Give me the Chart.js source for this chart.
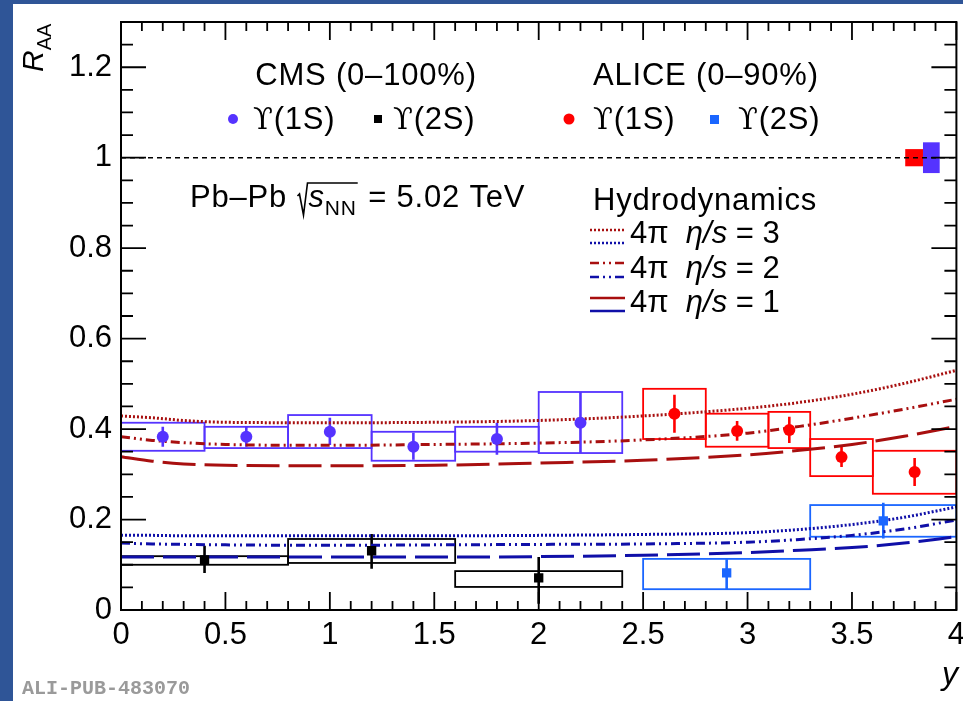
<!DOCTYPE html>
<html lang="en">
<head>
<meta charset="UTF-8">
<title>Upsilon R_AA vs y</title>
<script src="https://cdn.jsdelivr.net/npm/chart.js"></script>
<style>
  body { margin: 0; width: 963px; height: 701px; overflow: hidden; position: relative; background: #2f5597; }
  #plot { position: absolute; left: 13px; top: 4px; background: #fff; }
</style>
</head>
<body>
<canvas id="plot" width="950" height="697"></canvas>
<script>
// axis tick labels
const xTicks = [0, 0.5, 1, 1.5, 2, 2.5, 3, 3.5, 4];
const yTicks = [0, 0.2, 0.4, 0.6, 0.8, 1, 1.2];

// CMS (0-100%) Y(1S)
const cms1sRap = [0.2, 0.6, 1.0, 1.4, 1.8, 2.2];
const cms1sBinLo = [0, 0.4, 0.8, 1.2, 1.6, 2.0];
const cms1sBinHi = [0.4, 0.8, 1.2, 1.6, 2.0, 2.4];
const cms1sRaa = [0.383, 0.383, 0.394, 0.361, 0.378, 0.414];
const cms1sStatLo = [0.361, 0.361, 0.365, 0.332, 0.343, 0.347];
const cms1sStatHi = [0.405, 0.405, 0.425, 0.392, 0.414, 0.482];
const cms1sSysLo = [0.352, 0.358, 0.358, 0.330, 0.350, 0.347];
const cms1sSysHi = [0.414, 0.405, 0.431, 0.394, 0.405, 0.482];

// CMS (0-100%) Y(2S)
const cms2sRap = [0.4, 1.2, 2.0];
const cms2sBinLo = [0, 0.8, 1.6];
const cms2sBinHi = [0.8, 1.6, 2.4];
const cms2sRaa = [0.111, 0.131, 0.071];
const cms2sStatLo = [0.082, 0.091, 0.014];
const cms2sStatHi = [0.142, 0.168, 0.117];
const cms2sSysLo = [0.100, 0.104, 0.051];
const cms2sSysHi = [0.119, 0.157, 0.086];

// ALICE (0-90%) Y(1S)
const alice1sRap = [2.65, 2.95, 3.2, 3.45, 3.8];
const alice1sBinLo = [2.5, 2.8, 3.1, 3.3, 3.6];
const alice1sBinHi = [2.8, 3.1, 3.3, 3.6, 4.0];
const alice1sRaa = [0.434, 0.396, 0.398, 0.338, 0.305];
const alice1sStatLo = [0.392, 0.374, 0.369, 0.316, 0.274];
const alice1sStatHi = [0.476, 0.418, 0.427, 0.361, 0.336];
const alice1sSysLo = [0.378, 0.361, 0.358, 0.296, 0.257];
const alice1sSysHi = [0.489, 0.434, 0.438, 0.378, 0.352];

// ALICE (0-90%) Y(2S)
const alice2sRap = [2.9, 3.65];
const alice2sBinLo = [2.5, 3.3];
const alice2sBinHi = [3.3, 4.0];
const alice2sRaa = [0.082, 0.197];
const alice2sStatLo = [0.046, 0.158];
const alice2sStatHi = [0.112, 0.237];
const alice2sSysLo = [0.046, 0.162];
const alice2sSysHi = [0.113, 0.232];

// global normalisation uncertainties at unity: ALICE, CMS
const globalLo = [3.755, 3.84];
const globalHi = [3.84, 3.92];
const globalErr = [0.019, 0.034];

// hydrodynamic predictions, 4pi eta/s = 3, 2, 1
const hydroRap = [0, 0.15, 0.3, 0.5, 1, 1.5, 2, 2.5, 3, 3.25, 3.5, 3.75, 4];
const hydro1sEta3 = [0.429, 0.425, 0.419, 0.415, 0.414, 0.415, 0.419, 0.429, 0.446, 0.459, 0.477, 0.501, 0.530];
const hydro1sEta2 = [0.383, 0.375, 0.370, 0.366, 0.364, 0.366, 0.369, 0.376, 0.391, 0.406, 0.424, 0.444, 0.466];
const hydro1sEta1 = [0.339, 0.329, 0.323, 0.320, 0.319, 0.320, 0.325, 0.331, 0.343, 0.353, 0.366, 0.384, 0.406];
const hydro2sEta3 = [0.165, 0.165, 0.164, 0.164, 0.164, 0.164, 0.165, 0.167, 0.171, 0.178, 0.189, 0.205, 0.228];
const hydro2sEta2 = [0.148, 0.146, 0.145, 0.144, 0.143, 0.144, 0.145, 0.146, 0.150, 0.156, 0.165, 0.179, 0.199];
const hydro2sEta1 = [0.117, 0.117, 0.117, 0.117, 0.117, 0.117, 0.118, 0.121, 0.127, 0.132, 0.138, 0.148, 0.162];

const FONT = '"Liberation Sans", Arial, sans-serif';
const CMS_COLOR = '#5533ff';
const ALICE1S_COLOR = '#ff0000';
const ALICE2S_COLOR = '#1a66ff';
const HYDRO_RED = '#a80f0f';
const HYDRO_BLUE = '#0f0fa8';
const DOTTED = [2, 2];
const DASHDOT = [9, 4, 2, 4, 2, 4];
const LONGDASH = [33, 9];

const pts = (xs, ys) => xs.map((v, i) => ({ x: v, y: ys[i] }));

const measurements = [
  { color: CMS_COLOR, rap: cms1sRap, lo: cms1sBinLo, hi: cms1sBinHi, statLo: cms1sStatLo, statHi: cms1sStatHi, sysLo: cms1sSysLo, sysHi: cms1sSysHi },
  { color: '#000', rap: cms2sRap, lo: cms2sBinLo, hi: cms2sBinHi, statLo: cms2sStatLo, statHi: cms2sStatHi, sysLo: cms2sSysLo, sysHi: cms2sSysHi },
  { color: ALICE1S_COLOR, rap: alice1sRap, lo: alice1sBinLo, hi: alice1sBinHi, statLo: alice1sStatLo, statHi: alice1sStatHi, sysLo: alice1sSysLo, sysHi: alice1sSysHi },
  { color: ALICE2S_COLOR, rap: alice2sRap, lo: alice2sBinLo, hi: alice2sBinHi, statLo: alice2sStatLo, statHi: alice2sStatHi, sysLo: alice2sSysLo, sysHi: alice2sSysHi }
];
const globalColors = [ALICE1S_COLOR, CMS_COLOR];

function curve(ys, color, dash) {
  return {
    data: pts(hydroRap, ys), showLine: true, borderColor: color, borderWidth: 3,
    borderDash: dash, pointRadius: 0, cubicInterpolationMode: 'monotone', order: 2
  };
}
function marker(xs, ys, color, style, r) {
  return {
    data: pts(xs, ys), pointStyle: style, pointRadius: r, pointHoverRadius: r,
    backgroundColor: color, borderWidth: 0, order: 0
  };
}

// draws a row of text pieces (font switches, sub/superscripts)
function textRun(ctx, x, y, parts) {
  ctx.textAlign = 'left';
  ctx.textBaseline = 'alphabetic';
  for (const p of parts) {
    ctx.font = p.font;
    ctx.fillText(p.t, x, y + (p.dy || 0));
    x += ctx.measureText(p.t).width;
  }
  return x;
}

const decorations = {
  id: 'decorations',
  beforeDatasetsDraw(chart) {
    const { ctx, chartArea: a, scales: { x, y } } = chart;
    ctx.save();
    ctx.beginPath();
    ctx.rect(a.left, a.top, a.right - a.left, a.bottom - a.top);
    ctx.clip();

    // global uncertainty boxes around unity
    globalLo.forEach((lo, i) => {
      ctx.fillStyle = globalColors[i];
      const x0 = x.getPixelForValue(lo), x1 = x.getPixelForValue(globalHi[i]);
      const y0 = y.getPixelForValue(1 + globalErr[i]), y1 = y.getPixelForValue(1 - globalErr[i]);
      ctx.fillRect(x0, y0, x1 - x0, y1 - y0);
    });

    // systematic boxes and statistical bars
    for (const m of measurements) {
      ctx.strokeStyle = m.color;
      ctx.lineWidth = 1.8;
      m.rap.forEach((r, i) => {
        const x0 = x.getPixelForValue(m.lo[i]), x1 = x.getPixelForValue(m.hi[i]);
        const y0 = y.getPixelForValue(m.sysHi[i]), y1 = y.getPixelForValue(m.sysLo[i]);
        ctx.strokeRect(x0, y0, x1 - x0, y1 - y0);
      });
      ctx.lineWidth = 2.6;
      m.rap.forEach((r, i) => {
        const px = x.getPixelForValue(r);
        ctx.beginPath();
        ctx.moveTo(px, y.getPixelForValue(m.statHi[i]));
        ctx.lineTo(px, y.getPixelForValue(m.statLo[i]));
        ctx.stroke();
      });
    }
    ctx.restore();
  },
  afterDraw(chart) {
    const { ctx, chartArea: a, scales: { x, y } } = chart;
    ctx.save();
    ctx.strokeStyle = '#000';
    ctx.lineWidth = 2;
    ctx.strokeRect(a.left, a.top, a.right - a.left, a.bottom - a.top);

    // tick marks on all four sides, pointing inwards
    ctx.lineWidth = 1.8;
    ctx.beginPath();
    for (let k = 0; k <= 26; k++) {
      const py = y.getPixelForValue(k * 0.05);
      const len = k % 4 === 0 ? 25 : 12;
      ctx.moveTo(a.left, py); ctx.lineTo(a.left + len, py);
      ctx.moveTo(a.right, py); ctx.lineTo(a.right - len, py);
    }
    for (let k = 0; k <= 40; k++) {
      const px = x.getPixelForValue(k * 0.1);
      const len = k % 5 === 0 ? 18 : 9;
      ctx.moveTo(px, a.bottom); ctx.lineTo(px, a.bottom - len);
      ctx.moveTo(px, a.top); ctx.lineTo(px, a.top + len);
    }
    ctx.stroke();

    ctx.fillStyle = '#000';
    const reg = `31px ${FONT}`, ital = `italic 31px ${FONT}`, sub = `21px ${FONT}`;
    const upsFont = `29px "DejaVu Serif", serif`;

    // axis titles
    ctx.save();
    ctx.translate(30, 68);
    ctx.rotate(-Math.PI / 2);
    textRun(ctx, 0, 0, [{ t: 'R', font: `italic 30px ${FONT}` }, { t: 'AA', font: `20px ${FONT}`, dy: 8 }]);
    ctx.restore();
    ctx.font = `italic 32px ${FONT}`;
    ctx.textAlign = 'right';
    ctx.fillText('y', 945, 680);

    ctx.letterSpacing = '0.8px';

    // experiment labels
    ctx.font = reg;
    ctx.textAlign = 'center';
    ctx.fillText('CMS (0\u2013100%)', 353, 81);
    ctx.textAlign = 'left';
    ctx.fillText('ALICE (0\u201390%)', 580, 81);

    const ups = '\u03D2';
    ctx.fillStyle = CMS_COLOR;
    ctx.beginPath(); ctx.arc(220, 115, 5, 0, 2 * Math.PI); ctx.fill();
    ctx.fillStyle = '#000';
    ctx.fillRect(361, 111, 8, 8);
    ctx.fillStyle = ALICE1S_COLOR;
    ctx.beginPath(); ctx.arc(556, 115, 5.5, 0, 2 * Math.PI); ctx.fill();
    ctx.fillStyle = ALICE2S_COLOR;
    ctx.fillRect(697, 111, 9, 9);
    ctx.fillStyle = '#000';
    textRun(ctx, 240, 125, [{ t: ups, font: upsFont }, { t: '(1S)', font: reg }]);
    textRun(ctx, 380, 125, [{ t: ups, font: upsFont }, { t: '(2S)', font: reg }]);
    textRun(ctx, 580, 125, [{ t: ups, font: upsFont }, { t: '(1S)', font: reg }]);
    textRun(ctx, 725, 125, [{ t: ups, font: upsFont }, { t: '(2S)', font: reg }]);

    // collision system, with a hand-drawn radical
    let cx = textRun(ctx, 177, 203, [{ t: 'Pb\u2013Pb ', font: reg }]);
    const b = 203;
    ctx.lineWidth = 1.6;
    ctx.beginPath();
    ctx.moveTo(cx + 1, b - 11);
    ctx.lineTo(cx + 3, b - 13);
    ctx.lineTo(cx + 7, b + 8);
    ctx.lineTo(cx + 11, b - 24);
    const sx = cx + 12;
    const ex = textRun(ctx, sx, b, [{ t: 's', font: ital }, { t: 'NN', font: sub, dy: 8 }]);
    ctx.lineTo(ex + 1, b - 24);
    ctx.stroke();
    textRun(ctx, ex + 2, b, [{ t: ' = 5.02 TeV', font: reg }]);

    // model legend
    textRun(ctx, 580, 206, [{ t: 'Hydrodynamics', font: reg }]);
    ctx.letterSpacing = '0px';
    const rows = [
      { dash: DOTTED, yr: 226, yb: 239, base: 239, v: '3' },
      { dash: DASHDOT, yr: 259, yb: 273, base: 274, v: '2' },
      { dash: [], yr: 294, yb: 307, base: 308, v: '1' }
    ];
    ctx.lineWidth = 2.6;
    for (const r of rows) {
      ctx.setLineDash(r.dash);
      ctx.strokeStyle = HYDRO_RED;
      ctx.beginPath(); ctx.moveTo(577, r.yr); ctx.lineTo(612, r.yr); ctx.stroke();
      ctx.strokeStyle = HYDRO_BLUE;
      ctx.beginPath(); ctx.moveTo(577, r.yb); ctx.lineTo(612, r.yb); ctx.stroke();
      ctx.setLineDash([]);
      textRun(ctx, 617, r.base, [
        { t: '4\u03C0  ', font: reg }, { t: '\u03B7/s', font: ital }, { t: ' = ' + r.v, font: reg }
      ]);
    }

    // figure id
    ctx.font = `bold 20px "Liberation Mono", "DejaVu Sans Mono", monospace`;
    ctx.fillStyle = '#9a9a9a';
    ctx.textAlign = 'left';
    ctx.fillText('ALI-PUB-483070', 9, 690);
    ctx.restore();
  }
};

const fmt = v => String(Number(v.toFixed(2)));

new Chart(document.getElementById('plot'), {
  type: 'scatter',
  data: {
    datasets: [
      { data: pts([0, 4], [1, 1]), showLine: true, borderColor: '#000', borderWidth: 1.5, borderDash: [5, 4], pointRadius: 0, order: 3 },
      curve(hydro1sEta3, HYDRO_RED, DOTTED),
      curve(hydro1sEta2, HYDRO_RED, DASHDOT),
      curve(hydro1sEta1, HYDRO_RED, LONGDASH),
      curve(hydro2sEta3, HYDRO_BLUE, DOTTED),
      curve(hydro2sEta2, HYDRO_BLUE, DASHDOT),
      curve(hydro2sEta1, HYDRO_BLUE, LONGDASH),
      marker(cms1sRap, cms1sRaa, CMS_COLOR, 'circle', 6),
      marker(cms2sRap, cms2sRaa, '#000', 'rect', 6.6),
      marker(alice1sRap, alice1sRaa, ALICE1S_COLOR, 'circle', 6),
      marker(alice2sRap, alice2sRaa, ALICE2S_COLOR, 'rect', 6.6)
    ]
  },
  options: {
    responsive: false,
    animation: false,
    devicePixelRatio: 1,
    layout: { padding: { top: 18, right: 3, left: 0, bottom: 0 } },
    plugins: { legend: { display: false }, tooltip: { enabled: false } },
    scales: {
      x: {
        type: 'linear', min: 0, max: 4,
        grid: { display: false, drawTicks: false }, border: { display: false },
        afterBuildTicks: s => { s.ticks = xTicks.map(v => ({ value: v })); },
        afterFit: s => { s.height = 91; s.paddingLeft = 0; s.paddingRight = 0; },
        ticks: { autoSkip: false, maxRotation: 0, padding: 7, color: '#000', font: { family: FONT, size: 31 }, callback: v => fmt(v) }
      },
      y: {
        type: 'linear', min: 0, max: 1.3,
        grid: { display: false, drawTicks: false }, border: { display: false },
        afterBuildTicks: s => { s.ticks = yTicks.map(v => ({ value: v })); },
        afterFit: s => { s.width = 108; s.paddingTop = 0; s.paddingBottom = 0; },
        ticks: { padding: 9, color: '#000', font: { family: FONT, size: 31 }, callback: v => fmt(v) }
      }
    }
  },
  plugins: [decorations]
});
</script>
</body>
</html>
